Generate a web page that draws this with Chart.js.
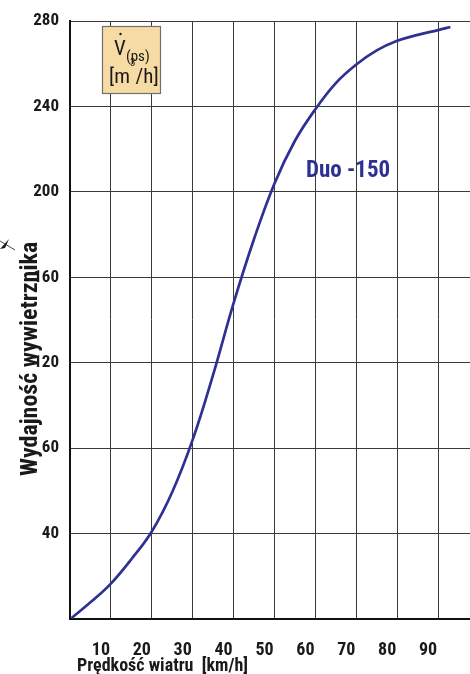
<!DOCTYPE html>
<html>
<head>
<meta charset="utf-8">
<script src="https://cdn.jsdelivr.net/npm/chart.js@4.4.1/dist/chart.umd.min.js"></script>
<style>
  html, body { margin: 0; padding: 0; background: #fff; }
  #chart { display: block; }
</style>
</head>
<body>
<canvas id="chart" width="470" height="674"></canvas>
<script>
// wind speed [km/h] and fan output (y axis runs 0..280 in grid steps of 40)
const windSpeed = [0.4, 5, 10, 15, 20, 25, 30, 35, 40, 45, 50, 55, 60, 65, 70, 75, 80, 85, 90, 93];
const fanOutput = [0.5, 7.8, 16.6, 28, 41, 59.5, 84, 114.5, 148, 178, 204, 224, 238.8, 251, 259.7, 266.3, 270.8, 273.6, 275.8, 277.3];

const xTickLabels = ['', '10', '20', '30', '40', '50', '60', '70', '80', '90'];
const yTickLabels = ['', '40', '60', '120', '160', '200', '240', '280'];

const seriesName = 'Duo -150';
const yTitle = 'Wydajność wywietrznika';
const xTitle = 'Prędkość wiatru  [km/h]';

const COND = "'Roboto Condensed', 'DejaVu Sans Condensed', sans-serif";
const BLUE = '#2e3192';
const INK = '#1a1a1a';

const decorations = {
    id: 'decorations',
    afterDraw(chart) {
        const ctx = chart.ctx;
        ctx.save();

        // unit box
        ctx.fillStyle = '#f6dba5';
        ctx.strokeStyle = '#707070';
        ctx.lineWidth = 1.2;
        ctx.fillRect(102, 26, 59, 68);
        ctx.strokeRect(102.5, 26.5, 58, 67);

        ctx.fillStyle = INK;
        ctx.textBaseline = 'alphabetic';
        ctx.textAlign = 'left';
        ctx.font = '21px ' + COND;
        ctx.fillText('V', 114, 55);
        ctx.beginPath();
        ctx.arc(120.5, 34, 1.2, 0, Math.PI * 2);
        ctx.fill();
        ctx.font = '15px ' + COND;
        ctx.fillText('(ps)', 126, 61);

        ctx.font = '21px ' + COND;
        let x = 109;
        ctx.fillText('[m', x, 83);
        x += ctx.measureText('[m').width;
        ctx.font = '11px ' + COND;
        ctx.fillText('3', x, 66);
        x += ctx.measureText('3').width;
        ctx.font = '21px ' + COND;
        ctx.fillText('/h]', x, 83);

        // series label
        ctx.fillStyle = BLUE;
        ctx.font = 'bold 23px ' + COND;
        ctx.fillText(seriesName, 306, 177);

        // axis titles
        ctx.fillStyle = INK;
        ctx.font = 'bold 18px ' + COND;
        ctx.fillText(xTitle, 77, 671);

        ctx.save();
        ctx.translate(37, 476);
        ctx.rotate(-Math.PI / 2);
        ctx.font = 'bold 24px ' + COND;
        ctx.fillText(yTitle, 0, 0);
        ctx.restore();

        // leftover arrow mark at the left edge
        ctx.strokeStyle = INK;
        ctx.lineWidth = 0.8;
        ctx.beginPath();
        ctx.moveTo(0, 241);
        ctx.lineTo(15, 250);
        ctx.stroke();
        ctx.beginPath();
        ctx.moveTo(0, 249);
        ctx.lineTo(9, 239);
        ctx.lineTo(5, 248);
        ctx.closePath();
        ctx.fill();

        ctx.restore();
    }
};

new Chart(document.getElementById('chart'), {
    type: 'line',
    data: {
        datasets: [{
            label: seriesName,
            data: windSpeed.map((v, i) => ({ x: v, y: fanOutput[i] })),
            borderColor: BLUE,
            borderWidth: 2.7,
            pointRadius: 0,
            fill: false,
            tension: 0.4
        }]
    },
    options: {
        responsive: false,
        animation: false,
        devicePixelRatio: 1,
        layout: { padding: { top: 17, right: 0, left: 0, bottom: 0 } },
        plugins: {
            legend: { display: false },
            tooltip: { enabled: false }
        },
        scales: {
            x: {
                type: 'linear',
                min: 0,
                max: 97.8,
                afterBuildTicks: scale => {
                    scale.ticks = xTickLabels.map((_, i) => ({ value: i * 10 }));
                },
                afterFit: scale => { scale.height = 55; },
                grid: { color: '#3a3a3a', lineWidth: 1, drawTicks: false },
                border: { color: '#111', width: 2 },
                ticks: {
                    padding: 21,
                    labelOffset: -10,
                    maxRotation: 0,
                    autoSkip: false,
                    color: INK,
                    font: { family: COND, size: 18, weight: 'bold' },
                    callback: (v, i) => xTickLabels[i]
                }
            },
            y: {
                min: 0,
                max: 280,
                afterBuildTicks: scale => {
                    scale.ticks = yTickLabels.map((_, i) => ({ value: i * 40 }));
                },
                afterFit: scale => { scale.width = 70; },
                grid: { color: '#3a3a3a', lineWidth: 1, drawTicks: false },
                border: { color: '#111', width: 2 },
                ticks: {
                    padding: 11,
                    autoSkip: false,
                    color: INK,
                    font: { family: COND, size: 17, weight: 'bold' },
                    callback: (v, i) => yTickLabels[i]
                }
            }
        }
    },
    plugins: [decorations]
});
</script>
</body>
</html>
